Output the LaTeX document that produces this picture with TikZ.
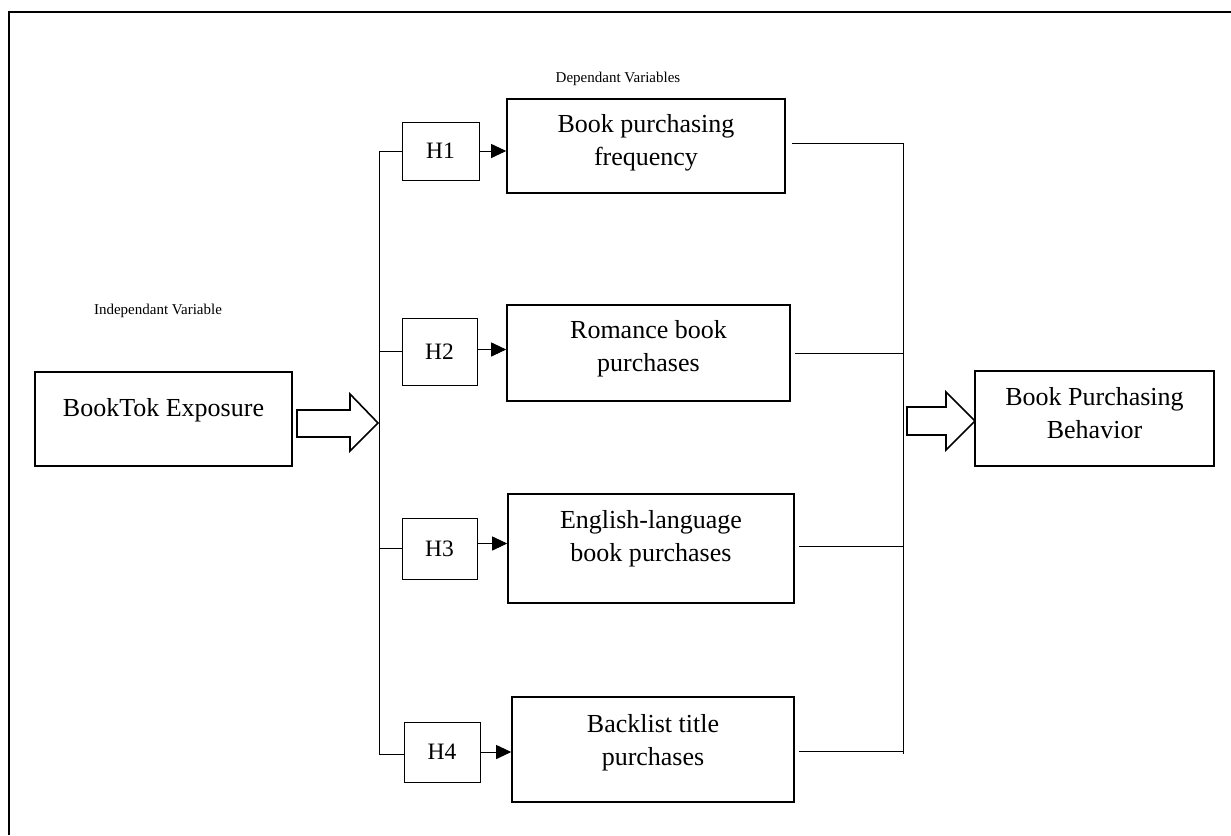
\documentclass[tikz,border=0pt]{standalone}
\usepackage{fontspec}
\setmainfont{Liberation Serif}
\usetikzlibrary{arrows.meta,calc}
\tikzset{
  bigbox/.style={draw,line width=1.6pt,inner sep=0pt},
  hbox/.style={draw,line width=0.9pt,inner sep=0pt,minimum width=77pt,minimum height=60pt,font=\fontsize{23.5}{28}\selectfont},
  btxt/.style={align=center,inner sep=0pt,font=\fontsize{26}{33}\selectfont},
  small/.style={inner sep=0pt,font=\fontsize{15}{18}\selectfont},
  conn/.style={line width=0.9pt},
  arr/.style={line width=0.9pt,-{Triangle[length=15pt,width=14pt]}},
  blockarrow/.style={draw,line width=1.6pt,fill=white,line join=miter}
}
\begin{document}
\begin{tikzpicture}[x=1pt,y=-1pt]
\useasboundingbox (0,0) rectangle (1231,835);
% outer frame (top and left edges visible)
\draw[line width=2pt] (9,835) -- (9,12) -- (1231,12);

% labels
\node[small] (indep) at (158,311) {Independant Variable};
\node[small] (dep) at (618,79) {Dependant Variables};

% BookTok box
\node[bigbox,minimum width=257pt,minimum height=94pt] (bt) at (163.5,419) {};
\node[btxt] (btt) at (163.5,410) {BookTok Exposure};

% dependent boxes
\node[bigbox,minimum width=278pt,minimum height=94pt] (b1) at (646,146) {};
\node[btxt] (b1t) at (646,143) {Book purchasing\\frequency};
\node[bigbox,minimum width=283pt,minimum height=96pt] (b2) at (648.5,353) {};
\node[btxt] (b2t) at (648.5,349) {Romance book\\purchases};
\node[bigbox,minimum width=286pt,minimum height=109pt] (b3) at (651,548.5) {};
\node[btxt] (b3t) at (651,539) {English-language\\book purchases};
\node[bigbox,minimum width=282pt,minimum height=105pt] (b4) at (653,749.5) {};
\node[btxt] (b4t) at (653,742.5) {Backlist title\\purchases};

% behavior box
\node[bigbox,minimum width=239pt,minimum height=95pt] (bh) at (1094.5,418.5) {};
\node[btxt] (bht) at (1094.5,413) {Book Purchasing\\Behavior};

% hypothesis boxes
\node[hbox,minimum height=58pt] (h1) at (440.5,151) {H1};
\node[hbox,minimum width=75pt,minimum height=67pt] (h2) at (439.5,351.5) {H2};
\node[hbox,minimum width=75pt,minimum height=61pt] (h3) at (439.5,548.5) {H3};
\node[hbox,minimum width=76pt,minimum height=60pt] (h4) at (442,752) {H4};

% left bus
\coordinate (lt) at (379,151);
\coordinate (lb) at (379,754);
\draw[conn] (lt) -- (lb);
\draw[conn] (h1.west -| lt) -- (h1.west);
\draw[conn] (h2.west -| lt) -- (h2.west);
\draw[conn] (h3.west -| lt) -- (h3.west);
\draw[conn] (lb) -- (lb -| h4.west);

% arrows H -> boxes
\draw[arr] (h1.east) -- (h1.east -| b1.west);
\draw[arr] ([yshift=2pt]h2.east) -- ([yshift=2pt]h2.east -| b2.west);
\draw[arr] ([yshift=5pt]h3.east) -- ([yshift=5pt]h3.east -| b3.west);
\draw[arr] (h4.east) -- (h4.east -| b4.west);

% right bus
\coordinate (rt) at (903,143);
\coordinate (rb) at (903,754);
\draw[conn] (rt) -- (rb);
\draw[conn] ([xshift=6pt,yshift=3pt]b1.east) -- ([yshift=3pt]b1.east -| rt);
\draw[conn] ([xshift=4pt]b2.east) -- (b2.east -| rt);
\draw[conn] ([xshift=4pt,yshift=2pt]b3.east) -- ([yshift=2pt]b3.east -| rt);
\draw[conn] ([xshift=4pt,yshift=-2pt]b4.east) -- ([yshift=-2pt]b4.east -| rt);

% block arrows
\draw[blockarrow] (297,410) -- (350,410) -- (350,394) -- (378,423) -- (350,451) -- (350,437) -- (297,437) -- cycle;
\draw[blockarrow] (907,407) -- (946,407) -- (946,392) -- (975,421) -- (946,450) -- (946,435) -- (907,435) -- cycle;
\end{tikzpicture}
\end{document}
